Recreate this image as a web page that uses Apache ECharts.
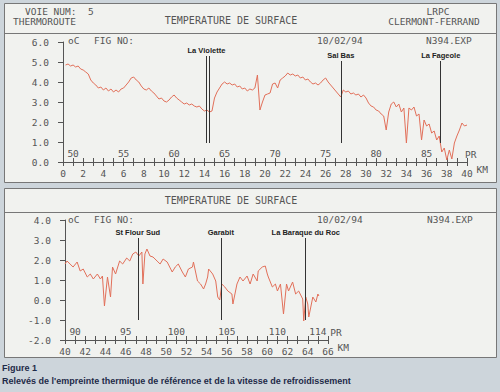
<!DOCTYPE html>
<html><head><meta charset="utf-8">
<script src="https://cdn.jsdelivr.net/npm/echarts@6/dist/echarts.min.js"></script>
<style>html,body{margin:0;padding:0;background:#cdd5db;}#c{width:500px;height:392px;}</style>
</head><body><div id="c"></div>
<script>
// ---- data ----
const kmTopStart = 0.25, kmTopStep = 0.25; // sampling grid of the top trace (km)
const tempTop = [4.85,4.9,4.8,4.85,4.75,4.8,4.65,4.6,4.5,4.4,4.1,3.95,3.85,3.7,3.75,3.6,3.7,3.55,3.65,3.5,
  3.6,3.5,3.65,3.7,3.85,4.0,4.2,4.25,4.1,4.0,3.8,3.65,3.6,3.7,3.55,3.45,3.3,3.15,3.2,3.05,
  3.0,3.1,3.25,3.35,3.2,3.1,3.0,2.9,2.95,2.85,2.9,2.8,2.75,2.8,2.65,2.55,2.6,2.5,2.55,3.2,
  3.5,3.7,3.9,4.0,3.9,3.95,3.85,3.9,3.75,3.8,3.65,3.7,3.55,3.65,3.6,3.7,4.35,2.6,3.0,3.35,
  3.4,3.45,3.9,3.95,3.7,4.1,4.2,4.3,4.45,4.35,4.4,4.3,4.35,4.2,4.25,4.1,4.15,4.0,3.9,3.95,
  3.85,3.95,4.1,4.2,4.0,3.85,3.7,3.55,3.4,3.25,3.6,3.5,3.55,3.4,3.45,3.35,3.4,3.25,3.35,3.2,
  2.95,2.8,2.75,2.6,2.55,2.4,2.3,1.6,2.5,2.9,3.0,2.75,2.9,2.5,2.7,0.95,2.7,2.6,2.75,2.3,
  2.4,1.1,2.1,1.8,1.9,1.45,1.55,1.1,1.3,0.5,0.7,0.1,0.6,0.15,0.95,1.3,1.6,1.95,1.8,1.85];

const kmBot = [40.0,40.2,40.5,40.8,41.2,41.5,41.8,42.2,42.5,42.8,43.2,43.5,43.7,43.9,44.2,44.5,44.7,45.0,45.4,45.7,
  46.1,46.4,46.7,47.0,47.3,47.6,47.7,47.9,48.1,48.4,48.7,49.1,49.4,49.7,50.1,50.6,50.9,51.2,51.6,51.9,
  52.2,52.6,52.7,53.1,53.4,53.7,53.9,54.1,54.2,54.6,54.9,55.1,55.3,55.5,55.8,56.1,56.5,56.6,57.0,57.3,
  57.6,58.0,58.3,58.6,59.0,59.1,59.5,59.8,60.0,60.1,60.5,60.8,61.0,61.3,61.6,61.9,62.1,62.5,62.8,63.1,
  63.5,63.6,63.8,64.0,64.1,64.5,64.8,65.0,65.1];
const tempBot = [1.8,1.95,1.8,1.65,1.9,1.45,1.55,1.15,1.3,1.05,1.3,1.05,1.2,-0.3,1.15,0.15,1.65,1.3,1.95,1.8,
  2.1,1.95,2.3,2.4,2.2,2.4,0.8,2.3,2.55,2.2,2.15,1.95,1.8,2.05,1.9,1.4,1.65,1.8,1.4,1.15,
  1.55,1.65,1.9,0.95,0.8,0.55,0.8,1.15,1.55,1.3,0.95,0.15,0.0,0.8,0.65,0.45,0.3,-0.2,0.8,1.15,
  0.95,1.2,0.8,1.3,0.95,1.45,1.65,1.7,1.3,1.15,0.65,0.8,0.45,0.8,-0.7,0.8,0.45,0.9,0.3,0.45,
  0.05,-1.05,0.15,-0.2,-0.85,0.15,-0.1,0.3,0.2];

const markerTopNames = ['La Violette','Sal Bas','La Fageole'];
const markerTopKm = [14.2, 27.5, 37.4];
const markerTopDouble = [true, false, false]; // La Violette is drawn as a double line
const markerBotNames = ['St Flour Sud','Garabit','La Baraque du Roc'];
const markerBotKm = [47.2, 55.4, 63.8];

const prTicksTop = [50,55,60,65,70,75,80,85];
const prTicksBot = [90,95,100,105,110,114];

// ---- styles ----
const MONO = 'DejaVu Sans Mono';
const TXT = '#555';
const AX = '#555';
const RED = '#e2705a';

const topPairs = tempTop.map((v,i)=>[kmTopStart + i*kmTopStep, v]);
const botPairs = tempBot.map((v,i)=>[kmBot[i], v]);

function kmAxis(grid, min, max){
  return {gridIndex:grid, type:'value', min:min, max:max, interval:2, position:'bottom',
    axisLine:{onZero:false, lineStyle:{color:AX, width:1}},
    axisTick:{length:4, lineStyle:{color:AX}},
    minorTick:{show:true, splitNumber:2, length:4, lineStyle:{color:AX}},
    axisLabel:{margin:6, fontFamily:MONO, fontSize:9.5, color:TXT},
    splitLine:{show:false},
    name:'KM', nameLocation:'end', nameGap:1,
    nameTextStyle:{fontFamily:MONO, fontSize:9.5, color:TXT, align:'left', verticalAlign:'top', padding:[2,0,0,0]}};
}
function prAxis(grid, min, max, ticks){
  return {gridIndex:grid, type:'value', min:min, max:max, interval:1, position:'bottom',
    axisLine:{show:false, onZero:false},
    axisTick:{inside:true, length:4, lineStyle:{color:AX}},
    axisLabel:{inside:true, margin:4, fontFamily:MONO, fontSize:9.5, color:TXT,
      formatter:v=>ticks.includes(v)?String(v):''},
    splitLine:{show:false},
    name:'PR', nameLocation:'end', nameGap:-2,
    nameTextStyle:{fontFamily:MONO, fontSize:9.5, color:TXT, align:'left', verticalAlign:'bottom', padding:[0,0,3,0]}};
}
function yAxis(grid, min, max){
  return {gridIndex:grid, type:'value', min:min, max:max, interval:1,
    axisLine:{show:true, onZero:false, lineStyle:{color:AX}},
    axisTick:{show:true, length:5, lineStyle:{color:AX}},
    axisLabel:{margin:14, fontFamily:MONO, fontSize:9.5, color:TXT, formatter:v=>v.toFixed(1)},
    splitLine:{show:false}};
}
function markers(names, kms, tops, y1, doubles){
  const data = [];
  kms.forEach((k,i)=>{
    data.push([{coord:[k,tops[i]], name:names[i]},{coord:[k,y1]}]);
    if (doubles && doubles[i]) data.push([{coord:[k+0.27,tops[i]], name:'', label:{show:false}},{coord:[k+0.27,y1]}]);
  });
  return {symbol:['none','none'], silent:true, animation:false,
    lineStyle:{color:'#333', width:1, type:'solid'},
    label:{show:true, position:'start', formatter:'{b}', distance:2,
      fontFamily:'Liberation Sans', fontWeight:'bold', fontSize:7.5, color:'#222'},
    emphasis:{disabled:true},
    data:data};
}
function txt(x,y,s,opts){
  return Object.assign({type:'text', x:x, y:y, z:10, silent:true,
    style:Object.assign({text:s, fill:TXT, font:'9.5px "'+MONO+'"', align:'left', verticalAlign:'middle'}, opts||{})});
}

const chart = echarts.init(document.getElementById('c'), null, {renderer:'svg', width:500, height:392});
chart.setOption({
  animation:false,
  backgroundColor:'#cdd5db',
  grid:[{left:63, top:42, width:404, height:120},{left:65, top:220, width:263, height:120}],
  xAxis:[kmAxis(0,0,40), prAxis(0,49,89,prTicksTop), kmAxis(1,40,66), prAxis(1,89,115,prTicksBot)],
  yAxis:[yAxis(0,0,6), yAxis(1,-2,4)],
  series:[
    {type:'line', xAxisIndex:0, yAxisIndex:0, data:topPairs, showSymbol:false, symbol:'none',
      lineStyle:{width:1, color:RED}, itemStyle:{color:RED},
      markLine:markers(markerTopNames, markerTopKm, [5.3,5.05,5.05], 0.95, markerTopDouble)},
    {type:'line', xAxisIndex:2, yAxisIndex:1, data:botPairs, showSymbol:false, symbol:'none',
      lineStyle:{width:1, color:RED}, itemStyle:{color:RED},
      markLine:markers(markerBotNames, markerBotKm, [3.1,3.1,3.1], -1.0)}
  ],
  graphic:[
    {type:'rect', z:-10, silent:true, shape:{x:4.5,y:3.5,width:492,height:179}, style:{fill:'#f1f2ef', stroke:'#777', lineWidth:1}},
    {type:'line', z:-9, silent:true, shape:{x1:4.5,y1:33.5,x2:496.5,y2:33.5}, style:{stroke:'#777', lineWidth:1}},
    {type:'rect', z:-10, silent:true, shape:{x:4.5,y:188.5,width:492,height:169}, style:{fill:'#f1f2ef', stroke:'#777', lineWidth:1}},
    {type:'line', z:-9, silent:true, shape:{x1:4.5,y1:212.5,x2:496.5,y2:212.5}, style:{stroke:'#777', lineWidth:1}},
    txt(25,11,'VOIE NUM:  5'),
    txt(13,21,'THERMOROUTE'),
    txt(231,20,'TEMPERATURE DE SURFACE',{align:'center', font:'10px "'+MONO+'"'}),
    txt(438,11,'LRPC',{align:'center'}),
    txt(434,21,'CLERMONT-FERRAND',{align:'center'}),
    txt(68,40,'oC'), txt(94,40,'FIG NO:'), txt(317,40,'10/02/94'), txt(426,40,'N394.EXP'),
    txt(231,200,'TEMPERATURE DE SURFACE',{align:'center', font:'10px "'+MONO+'"'}),
    txt(68,219,'oC'), txt(94,219,'FIG NO:'), txt(317,219,'10/02/94'), txt(427,219,'N394.EXP'),
    txt(2,368,'Figure 1',{fill:'#1e2a48', font:'bold 9px "Liberation Sans"'}),
    txt(2,381,"Relevés de l'empreinte thermique de référence et de la vitesse de refroidissement",{fill:'#1e2a48', font:'bold 9px "Liberation Sans"'})
  ]
});
</script></body></html>
